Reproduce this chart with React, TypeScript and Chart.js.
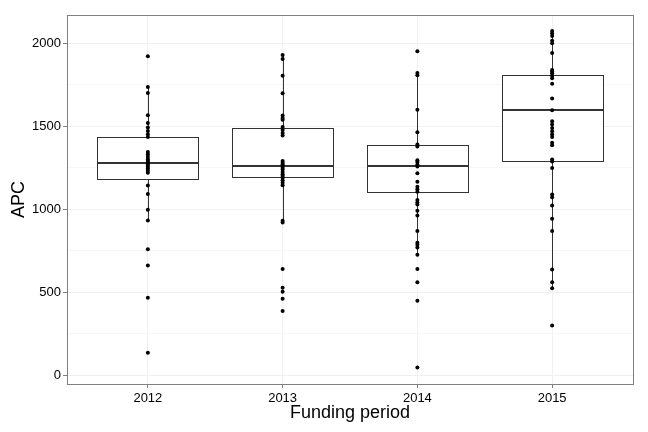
import { useEffect, useRef } from 'react';
import { Chart, registerables } from 'chart.js';

Chart.register(...registerables);

const YEARS = ['2012', '2013', '2014', '2015'];

const APC_2012 = [1923, 1737, 1700, 1566, 1520, 1492, 1472, 1452, 1436, 1345, 1330, 1315, 1300, 1290, 1281, 1270, 1258, 1245, 1232, 1220, 1143, 1092, 996, 932, 759, 661, 466, 134];
const APC_2013 = [1930, 1905, 1805, 1699, 1565, 1550, 1540, 1496, 1478, 1460, 1445, 1290, 1280, 1270, 1262, 1250, 1240, 1225, 1210, 1200, 1190, 1175, 1160, 1145, 930, 920, 640, 526, 502, 460, 386];
const APC_2014 = [1952, 1822, 1808, 1600, 1464, 1390, 1378, 1295, 1285, 1270, 1258, 1217, 1165, 1135, 1120, 1105, 1055, 1040, 1028, 990, 962, 869, 797, 785, 769, 725, 640, 560, 448, 45];
const APC_2015 = [2075, 2060, 2045, 2015, 2000, 1942, 1840, 1830, 1820, 1805, 1790, 1757, 1667, 1596, 1530, 1510, 1490, 1470, 1450, 1435, 1400, 1385, 1300, 1288, 1249, 1088, 1072, 1022, 942, 869, 637, 560, 524, 299];
const SERIES = [APC_2012, APC_2013, APC_2014, APC_2015];

const WHISKER_LOW = [932, 924, 725, 524];
const Q1 = [1185, 1193, 1104, 1289];
const MEDIAN = [1281, 1259, 1261, 1596];
const Q3 = [1436, 1488, 1388, 1811];
const WHISKER_HIGH = [1737, 1930, 1808, 2075];

const Y_MAJOR = [0, 500, 1000, 1500, 2000];
const Y_MINOR = [250, 750, 1250, 1750];

const FONT = "'Liberation Sans', Arial, Helvetica, sans-serif";

const crisp = (v: number) => Math.round(v) + 0.5;

const boxPlugin = {
  id: 'boxes',
  beforeDatasetsDraw(chart: any) {
    const { ctx, scales } = chart;
    const x = scales.x;
    const y = scales.y;
    ctx.save();
    YEARS.forEach((_, i) => {
      const cx = crisp(x.getPixelForValue(i));
      const left = crisp(x.getPixelForValue(i - 0.375));
      const right = crisp(x.getPixelForValue(i + 0.375));
      const yLo = y.getPixelForValue(WHISKER_LOW[i]);
      const yQ1 = crisp(y.getPixelForValue(Q1[i]));
      const yMed = y.getPixelForValue(MEDIAN[i]);
      const yQ3 = crisp(y.getPixelForValue(Q3[i]));
      const yHi = y.getPixelForValue(WHISKER_HIGH[i]);
      ctx.strokeStyle = '#333333';
      ctx.lineWidth = 1;
      ctx.beginPath();
      ctx.moveTo(cx, yQ3);
      ctx.lineTo(cx, yHi);
      ctx.moveTo(cx, yQ1);
      ctx.lineTo(cx, yLo);
      ctx.stroke();
      ctx.fillStyle = '#ffffff';
      ctx.fillRect(left, yQ3, right - left, yQ1 - yQ3);
      ctx.strokeRect(left, yQ3, right - left, yQ1 - yQ3);
      ctx.lineWidth = 2;
      ctx.beginPath();
      ctx.moveTo(left, Math.round(yMed));
      ctx.lineTo(right, Math.round(yMed));
      ctx.stroke();
    });
    ctx.restore();
  },
  afterDraw(chart: any) {
    const { ctx, chartArea } = chart;
    ctx.save();
    ctx.strokeStyle = '#7f7f7f';
    ctx.lineWidth = 1;
    const l = crisp(chartArea.left);
    const t = crisp(chartArea.top);
    const r = crisp(chartArea.right);
    const b = crisp(chartArea.bottom);
    ctx.strokeRect(l, t, r - l, b - t);
    ctx.restore();
  },
};

export default function App() {
  const ref = useRef<HTMLCanvasElement | null>(null);

  useEffect(() => {
    if (!ref.current) return;
    const points: { x: number; y: number }[] = [];
    SERIES.forEach((vals, i) => vals.forEach((v) => points.push({ x: i, y: v })));

    const chart = new Chart(ref.current, {
      type: 'scatter',
      data: {
        datasets: [
          {
            data: points,
            backgroundColor: '#000000',
            borderWidth: 0,
            pointRadius: 2,
            pointHoverRadius: 2,
          },
        ],
      },
      plugins: [boxPlugin],
      options: {
        animation: false,
        responsive: false,
        events: [],
        layout: { padding: { left: 0, top: 15, right: 15, bottom: 0 } },
        plugins: { legend: { display: false }, tooltip: { enabled: false } },
        scales: {
          x: {
            type: 'linear',
            min: -0.6,
            max: 3.6,
            afterBuildTicks: (scale: any) => {
              scale.ticks = YEARS.map((_, i) => ({ value: i }));
            },
            afterFit: (scale: any) => {
              scale.height = 48;
            },
            border: { display: false },
            grid: {
              color: '#f0f0f0',
              lineWidth: 1,
              drawTicks: true,
              tickLength: 4,
              tickColor: '#7f7f7f',
            },
            ticks: {
              padding: 3,
              color: '#000000',
              font: { family: FONT, size: 13 },
              maxRotation: 0,
              autoSkip: false,
              callback: (v: any) => YEARS[Math.round(Number(v))] ?? '',
            },
            title: {
              display: true,
              text: 'Funding period',
              color: '#000000',
              font: { family: FONT, size: 18 },
              padding: { top: 0, bottom: 8 },
            },
          },
          y: {
            type: 'linear',
            min: -54,
            max: 2171,
            afterBuildTicks: (scale: any) => {
              scale.ticks = [...Y_MAJOR, ...Y_MINOR]
                .sort((a, b) => a - b)
                .map((v) => ({ value: v }));
            },
            afterFit: (scale: any) => {
              scale.width = 67;
            },
            border: { display: false },
            grid: {
              color: (c: any) => (Y_MAJOR.includes(c.tick?.value) ? '#f0f0f0' : '#f7f7f7'),
              lineWidth: 1,
              drawTicks: true,
              tickLength: 4,
              tickColor: (c: any) => (Y_MAJOR.includes(c.tick?.value) ? '#7f7f7f' : 'rgba(0,0,0,0)'),
            },
            ticks: {
              padding: 2,
              color: '#000000',
              font: { family: FONT, size: 13 },
              autoSkip: false,
              callback: (v: any) => (Y_MAJOR.includes(Number(v)) ? String(v) : ''),
            },
            title: {
              display: true,
              text: 'APC',
              color: '#000000',
              font: { family: FONT, size: 18 },
              padding: { top: 8, bottom: 0 },
            },
          },
        },
      },
    });
    return () => chart.destroy();
  }, []);

  return (
    <div style={{ position: 'absolute', left: 0, top: 0, width: 648, height: 432, background: '#fff' }}>
      <canvas ref={ref} width={648} height={432} style={{ display: 'block', width: 648, height: 432 }} />
    </div>
  );
}
